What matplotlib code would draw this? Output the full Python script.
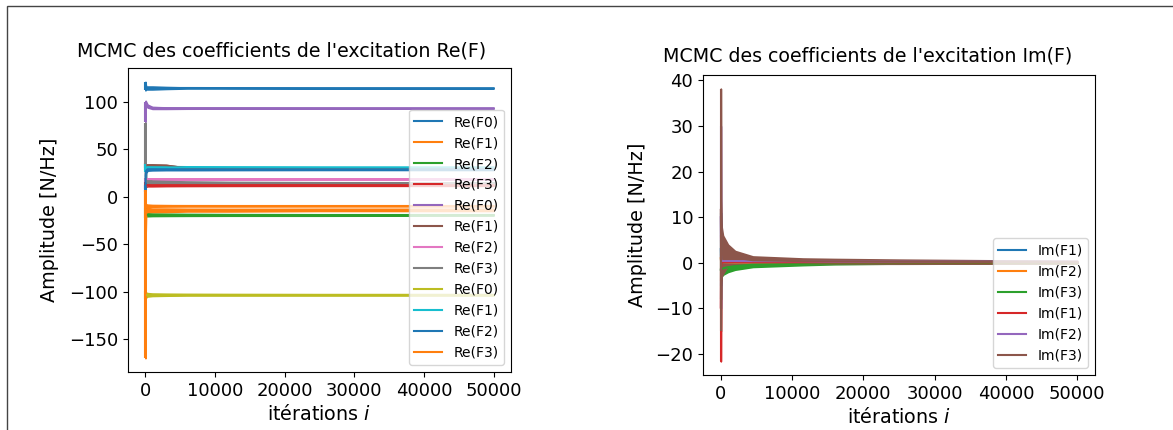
#!/usr/bin/env python3
"""MCMC traces of the excitation coefficients, Re(F) and Im(F)."""

from matplotlib import pyplot as plt
from matplotlib.patches import Rectangle


FIGSIZE = (1173, 430)
DPI = 100

# iteration knots at which the trace envelopes were read
RE_ITER = [0, 30, 100, 300, 1000, 3000, 6000, 12000, 25000, 50000]
IM_ITER = [0, 30, 100, 300, 1000, 2000, 4500, 11500, 16000, 25000, 38000, 50000]

RE_LABELS = ["Re(F0)", "Re(F1)", "Re(F2)", "Re(F3)"] * 3
IM_LABELS = ["Im(F1)", "Im(F2)", "Im(F3)"] * 2

# lower / upper envelope of each chain, Re(F)
RE_LO = [
    [112, 113, 113, 113, 113, 113.5, 114, 114, 114, 114],
    [-12, -11, -11, -10.5, -10.5, -10.3, -10.2, -10.2, -10.1, -10],
    [-22, -21, -20.5, -20.5, -20.3, -20.2, -20.1, -20, -20, -19.8],
    [8, 10, 10.5, 11, 11, 11.2, 11.3, 11.4, 11.5, 11.5],
    [79, 95, 97, 94, 92.5, 92.5, 92.7, 92.8, 92.8, 92.8],
    [28, 31.5, 32, 32, 32, 32, 29.5, 29.5, 29.5, 29.5],
    [16, 17.5, 18, 18, 18, 18, 18, 18, 18, 18],
    [30, 12, 12, 12.5, 13, 13.3, 13.5, 13.6, 13.7, 13.8],
    [-108, -107, -106, -105, -104.5, -104.2, -104, -104, -104, -104],
    [26, 28, 29, 29.5, 29.5, 29.6, 29.7, 29.8, 30, 30.2],
    [5, 18, 25, 27.5, 27.8, 28, 28, 28.1, 28.2, 28.2],
    [-170, -40, -17, -16, -16, -16, -15.5, -15.5, -15, -15],
]
RE_HI = [
    [121, 119, 116, 116, 116, 115.5, 115, 114.8, 114.6, 114.5],
    [7, -7, -8, -8.5, -8.8, -9, -9.2, -9.3, -9.4, -9.5],
    [-12, -16, -17, -17.5, -17.8, -18, -18.2, -18.4, -18.5, -18.6],
    [15, 14, 13.5, 13.5, 13.3, 13.2, 13.1, 13, 13, 13],
    [100, 101, 100, 97, 94.5, 94, 93.8, 93.7, 93.6, 93.5],
    [35, 34, 34, 34, 34, 33.5, 30.5, 30.5, 30.5, 30.5],
    [20, 19.5, 19.2, 19.2, 19.2, 19.2, 19.2, 19.2, 19.2, 19.2],
    [78, 33, 20, 18, 17, 16.5, 16, 15.5, 15.2, 15],
    [-99, -100, -101, -101.5, -102, -102.3, -102.5, -102.6, -102.7, -102.7],
    [34, 33, 32.5, 32.5, 32.3, 32.2, 32, 31.8, 31.5, 31.3],
    [12, 26, 29.5, 29.8, 29.8, 29.6, 29.5, 29.3, 29.2, 29.2],
    [7, -8, -11, -12, -12.5, -12.5, -12.7, -12.8, -12.8, -12.8],
]

# lower / upper envelope of each chain, Im(F)
IM_LO = [
    [-5, -1, -0.5, -0.3, -0.2, -0.15, -0.1, -0.1, -0.1, -0.05, -0.05, -0.05],
    [-4, -1, -0.5, -0.3, -0.2, -0.15, -0.1, -0.1, -0.1, -0.05, -0.05, -0.05],
    [-8, -4, -3, -2.6, -2, -1.5, -0.9, -0.5, -0.3, -0.15, -0.1, -0.1],
    [-21.6, -3, -0.5, -0.2, -0.1, 0, 0, 0, 0, 0, 0, 0],
    [-10, -1, 0.1, 0.2, 0.3, 0.3, 0.3, 0.3, 0.2, 0.2, 0.2, 0.2],
    [-15, -5, -3, -2.4, -0.5, -0.3, -0.25, -0.2, -0.2, -0.2, -0.15, -0.1],
]
IM_HI = [
    [11, 2, 1, 0.6, 0.4, 0.3, 0.25, 0.2, 0.15, 0.1, 0.1, 0.1],
    [6, 2, 1, 0.6, 0.4, 0.3, 0.25, 0.2, 0.15, 0.1, 0.1, 0.1],
    [5, 1, 0.3, 0.2, 0.1, 0.1, 0.1, 0.05, 0.05, 0.05, 0.05, 0.05],
    [2, 0.8, 0.6, 0.5, 0.4, 0.35, 0.3, 0.25, 0.2, 0.2, 0.2, 0.2],
    [30, 2, 0.8, 0.6, 0.5, 0.5, 0.45, 0.4, 0.35, 0.3, 0.3, 0.3],
    [38.2, 14, 8, 6, 4, 2.6, 1.4, 0.95, 0.85, 0.7, 0.55, 0.45],
]

TICK_FONTSIZE = 13
LABEL_FONTSIZE = 13.8
TITLE_FONTSIZE = 13.7
LEGEND_FONTSIZE = 10


def draw_chains(ax, iters, labels, lows, highs):
    for k, (label, lo, hi) in enumerate(zip(labels, lows, highs)):
        color = "C%d" % (k % 10)
        mid = [(a + b) / 2 for a, b in zip(lo, hi)]
        ax.fill_between(iters, lo, hi, color=color, lw=1.2)
        # burn-in spike at the first iteration
        ax.vlines(iters[0], lo[0], hi[0], color=color, lw=1.5)
        ax.plot(iters, mid, color=color, lw=1.5, label=label)


def main():
    plt.rcParams["xtick.labelsize"] = TICK_FONTSIZE
    plt.rcParams["ytick.labelsize"] = TICK_FONTSIZE
    plt.rcParams["axes.labelsize"] = LABEL_FONTSIZE
    plt.rcParams["axes.titlesize"] = TITLE_FONTSIZE

    fig = plt.figure(figsize=(FIGSIZE[0]/DPI, FIGSIZE[1]/DPI), dpi=DPI)

    # frame of the screenshot
    fig.add_artist(Rectangle((7/1173, -0.1), 1.2, 1.1 - 6/430, transform=fig.transFigure,
                             fill=False, ec="#444444", lw=1))

    # Re(F)

    ax1 = fig.add_axes([128/1173, 58/430, 383/1173, 304/430])
    draw_chains(ax1, RE_ITER, RE_LABELS, RE_LO, RE_HI)
    ax1.set_title("MCMC des coefficients de l'excitation Re(F)", x=0.40, pad=8)
    ax1.set_xlabel("itérations $i$", labelpad=3)
    ax1.set_ylabel("Amplitude [N/Hz]", labelpad=7)
    ax1.set_xticks(range(0, 50001, 10000))
    ax1.legend(loc="lower right", fontsize=LEGEND_FONTSIZE)

    # Im(F)

    ax2 = fig.add_axes([703/1173, 55/430, 392/1173, 300/430])
    draw_chains(ax2, IM_ITER, IM_LABELS, IM_LO, IM_HI)
    ax2.set_title("MCMC des coefficients de l'excitation Im(F)", x=0.42, pad=10)
    ax2.set_xlabel("itérations $i$", labelpad=3)
    ax2.set_ylabel("Amplitude [N/Hz]", labelpad=6)
    ax2.set_xticks(range(0, 50001, 10000))
    ax2.legend(loc="lower right", fontsize=LEGEND_FONTSIZE)

    fig.savefig("out.png", dpi=DPI)


if __name__ == "__main__":
    main()
